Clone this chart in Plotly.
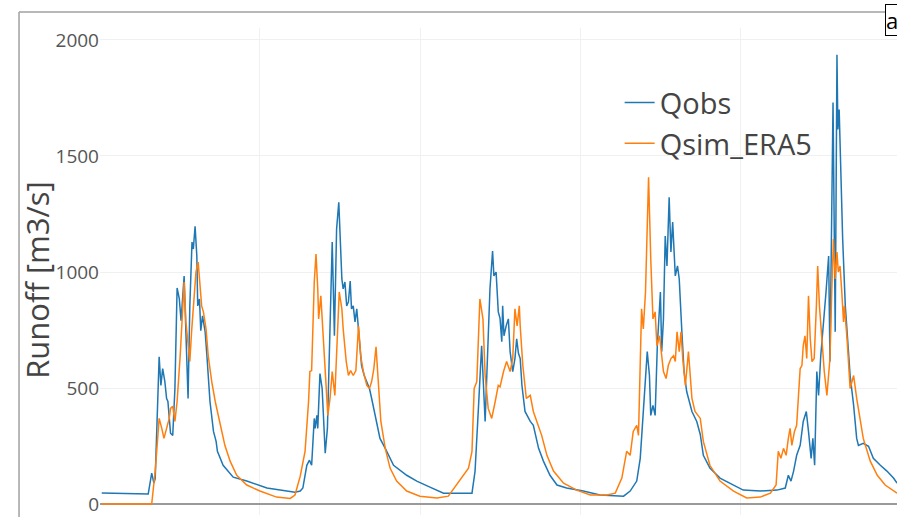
import pandas as pd
import plotly.graph_objects as go

start_date = "2011-01-01"

# Qobs: day offset from start_date, runoff [m3/s]
obs_day = [4, 110, 118, 123, 126, 135, 139, 143, 148, 152, 155, 161, 166, 171, 176, 181, 185, 189, 192, 196,
           201, 205, 210, 213, 217, 221, 223, 227, 230, 234, 240, 244, 251, 259, 265, 268, 281, 304, 335, 381,
           445, 457, 463, 472, 478, 483, 489, 491, 495, 497, 502, 507, 514, 519, 525, 530, 535, 540, 545, 548,
           552, 555, 559, 563, 567, 571, 574, 578, 582, 586, 590, 594, 597, 603, 609, 615, 620, 628, 632, 639,
           651, 670, 700, 723, 753, 784, 849, 856, 864, 871, 879, 886, 890, 896, 899, 904, 909, 913, 917, 919,
           922, 927, 932, 936, 942, 947, 951, 955, 959, 963, 970, 982, 989, 1001, 1012, 1027, 1043, 1065, 1103, 1141,
           1195, 1210, 1225, 1233, 1242, 1249, 1254, 1257, 1262, 1267, 1272, 1279, 1282, 1286, 1290, 1294, 1299, 1303, 1307, 1313,
           1318, 1322, 1328, 1333, 1339, 1351, 1362, 1370, 1377, 1392, 1415, 1446, 1468, 1507, 1545, 1564, 1571, 1577, 1583, 1590,
           1598, 1605, 1612, 1617, 1623, 1627, 1631, 1636, 1640, 1645, 1651, 1657, 1663, 1666, 1673, 1678, 1682, 1684, 1687, 1691,
           1695, 1701, 1707, 1712, 1720, 1727, 1731, 1742, 1754, 1765, 1781, 1796, 1811, 1819]
obs_val = [48, 43, 133, 90, 110, 635, 511, 584, 528, 455, 442, 305, 296, 498, 931, 884, 790, 884, 983, 742,
           455, 854, 1129, 1099, 1197, 1069, 854, 884, 747, 811, 742, 639, 442, 313, 270, 227, 167, 116, 99, 69,
           51, 56, 69, 167, 189, 167, 369, 326, 382, 326, 562, 498, 219, 326, 712, 1129, 725, 1185, 1300, 1172,
           970, 927, 957, 854, 871, 961, 841, 854, 785, 841, 755, 670, 597, 554, 528, 498, 455, 382, 356, 283,
           240, 167, 124, 99, 73, 47, 47, 142, 425, 682, 356, 670, 927, 1090, 983, 1000, 828, 800, 700, 854,
           725, 768, 798, 657, 571, 627, 712, 650, 627, 511, 399, 356, 339, 240, 185, 124, 82, 69, 56, 39,
           34, 56, 99, 197, 455, 657, 554, 382, 425, 382, 682, 914, 657, 798, 1155, 1026, 1322, 1086, 1215, 983,
           1026, 970, 742, 571, 485, 399, 356, 300, 210, 155, 112, 82, 60, 56, 60, 69, 124, 99, 142, 210,
           253, 356, 399, 313, 197, 283, 167, 571, 468, 639, 768, 914, 1069, 614, 1730, 742, 1936, 1614, 1700, 1356,
           1142, 854, 712, 554, 425, 283, 253, 262, 249, 197, 167, 142, 112, 90]

# Qsim_ERA5: day offset from start_date, runoff [m3/s]
sim_day = [4, 118, 126, 131, 135, 141, 146, 152, 158, 161, 166, 171, 176, 183, 187, 192, 196, 202, 205, 209,
           215, 219, 224, 228, 232, 236, 242, 247, 255, 263, 270, 278, 285, 297, 312, 335, 365, 403, 434, 445,
           457, 468, 476, 479, 483, 489, 493, 497, 499, 504, 510, 516, 520, 525, 530, 536, 542, 546, 552, 555,
           562, 567, 572, 578, 584, 590, 595, 601, 609, 615, 620, 625, 630, 635, 641, 651, 662, 677, 700, 730,
           769, 795, 814, 829, 841, 849, 854, 860, 867, 874, 879, 886, 894, 902, 909, 913, 921, 928, 936, 942,
           947, 952, 957, 959, 965, 973, 982, 989, 997, 1008, 1020, 1035, 1058, 1088, 1119, 1157, 1176, 1191, 1202, 1210,
           1217, 1225, 1229, 1236, 1240, 1245, 1249, 1252, 1257, 1262, 1267, 1271, 1277, 1282, 1286, 1292, 1297, 1303, 1309, 1313,
           1317, 1322, 1326, 1330, 1336, 1343, 1351, 1358, 1370, 1377, 1392, 1415, 1446, 1476, 1507, 1530, 1543, 1548, 1554, 1560,
           1566, 1571, 1575, 1579, 1585, 1590, 1594, 1598, 1602, 1605, 1609, 1613, 1617, 1621, 1625, 1630, 1635, 1638, 1642, 1647,
           1653, 1659, 1663, 1666, 1670, 1674, 1678, 1682, 1685, 1689, 1693, 1697, 1699, 1705, 1712, 1720, 1727, 1733, 1742, 1758,
           1774, 1792, 1811, 1819]
sim_val = [0, 0, 142, 296, 369, 326, 283, 326, 369, 412, 421, 356, 442, 639, 785, 957, 785, 670, 614, 742,
           897, 1000, 1043, 927, 854, 828, 755, 639, 528, 442, 382, 313, 253, 185, 124, 82, 56, 30, 24, 39,
           120, 227, 442, 571, 575, 957, 1077, 927, 798, 897, 712, 498, 382, 455, 571, 468, 755, 914, 841, 755,
           614, 554, 575, 554, 575, 768, 639, 571, 511, 498, 528, 584, 678, 528, 356, 240, 155, 99, 56, 34,
           26, 34, 82, 124, 155, 227, 498, 528, 884, 798, 554, 412, 369, 442, 511, 505, 571, 614, 571, 627,
           841, 768, 854, 768, 597, 455, 468, 399, 356, 296, 210, 142, 90, 60, 39, 39, 47, 112, 227, 210,
           313, 339, 296, 841, 755, 914, 1197, 1408, 1056, 798, 828, 682, 725, 627, 571, 541, 597, 627, 639, 614,
           742, 657, 742, 627, 511, 657, 455, 399, 369, 270, 167, 99, 56, 26, 30, 47, 82, 227, 197, 240,
           210, 283, 326, 253, 313, 339, 455, 584, 597, 682, 725, 627, 897, 712, 614, 627, 854, 1026, 854, 712,
           571, 468, 541, 627, 914, 1142, 970, 1086, 1000, 1026, 914, 785, 854, 712, 498, 554, 455, 382, 283, 185,
           124, 82, 56, 47]

y_ticks = [0, 500, 1000, 1500, 2000]

t0 = pd.Timestamp(start_date)
obs_x = [t0 + pd.Timedelta(days=d) for d in obs_day]
sim_x = [t0 + pd.Timedelta(days=d) for d in sim_day]
x_end = t0 + pd.Timedelta(days=1819)

fig = go.Figure()
fig.add_trace(go.Scatter(x=obs_x, y=obs_val, mode="lines", name="Qobs",
                         line=dict(color="#1f77b4", width=1.5)))
fig.add_trace(go.Scatter(x=sim_x, y=sim_val, mode="lines", name="Qsim_ERA5",
                         line=dict(color="#ff7f0e", width=1.5)))

fig.update_layout(
    width=897, height=517,
    margin=dict(l=100, r=0, t=28, b=0),
    paper_bgcolor="white", plot_bgcolor="white",
    font=dict(family="Open Sans", color="#444"),
    showlegend=True,
    legend=dict(x=0.652, y=0.899, xanchor="left", yanchor="top",
                font=dict(size=29, color="#444"), bgcolor="rgba(0,0,0,0)",
                tracegroupgap=0),
    xaxis=dict(type="date", range=[t0, x_end], showticklabels=False,
               dtick="M12", tick0=start_date, showgrid=True, gridcolor="#f0f0f0",
               gridwidth=1, zeroline=False, showline=False, ticks=""),
    yaxis=dict(range=[-47.2, 2051.5], tickvals=y_ticks,
               ticktext=[str(v) for v in y_ticks],
               tickfont=dict(size=19, color="#555"),
               ticklabeloverflow="allow",
               showgrid=True, gridcolor="#f0f0f0", gridwidth=1,
               zeroline=True, zerolinecolor="#9a9a9a", zerolinewidth=2,
               showline=False, ticks=""),
)

# y-axis title placed as a rotated annotation
fig.add_annotation(text="Runoff [m3/s]", xref="paper", yref="paper",
                   x=-0.079, y=0.483, xanchor="center", yanchor="middle",
                   textangle=-90, showarrow=False,
                   font=dict(size=31, color="#444"))

# outer frame (top and left edge of the figure box)
fig.add_shape(type="line", xref="paper", yref="paper",
              x0=-0.1016, x1=1.05, y0=1.0327, y1=1.0327,
              line=dict(color="#a0a0a0", width=1.5))
fig.add_shape(type="line", xref="paper", yref="paper",
              x0=-0.1016, x1=-0.1016, y0=1.0327, y1=-0.05,
              line=dict(color="#a0a0a0", width=1.5))

fig.add_annotation(text="a", xref="paper", yref="paper", x=0.985, y=1.0494,
                   xanchor="left", yanchor="top", showarrow=False,
                   font=dict(size=22, color="black"), bordercolor="black",
                   borderwidth=1, borderpad=0, bgcolor="white")

fig.write_html("out.html", config={"displayModeBar": False},
               post_script="document.body.style.margin='0';document.body.style.overflow='hidden';")
